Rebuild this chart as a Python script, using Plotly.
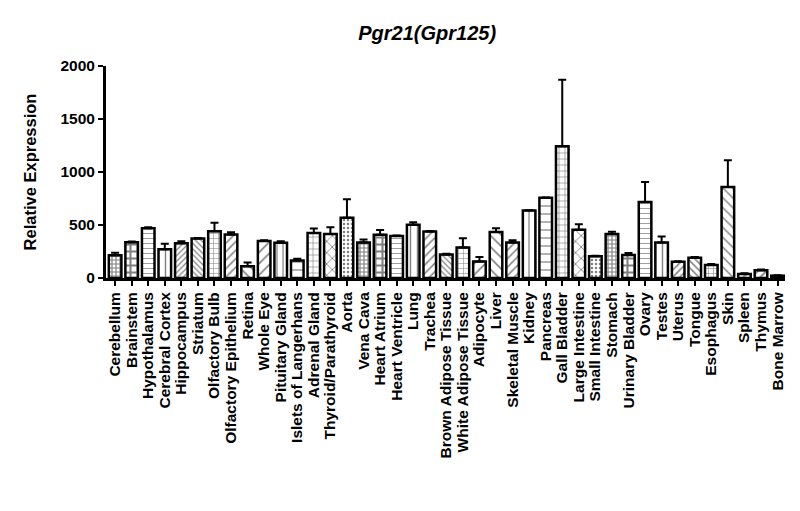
import plotly.graph_objects as go

tissues = ['Cerebellum', 'Brainstem', 'Hypothalamus', 'Cerebral Cortex', 'Hippocampus',
           'Striatum', 'Olfactory Bulb', 'Olfactory Epithelium', 'Retina', 'Whole Eye',
           'Pituitary Gland', 'Islets of Langerhans', 'Adrenal Gland', 'Thyroid/Parathyroid',
           'Aorta', 'Vena Cava', 'Heart Atrium', 'Heart Ventricle', 'Lung', 'Trachea',
           'Brown Adipose Tissue', 'White Adipose Tissue', 'Adipocyte', 'Liver',
           'Skeletal Muscle', 'Kidney', 'Pancreas', 'Gall Bladder', 'Large Intestine',
           'Small Intestine', 'Stomach', 'Urinary Bladder', 'Ovary', 'Testes', 'Uterus',
           'Tongue', 'Esophagus', 'Skin', 'Spleen', 'Thymus', 'Bone Marrow']

expression = [215, 338, 469, 272, 328, 372, 441, 410, 112, 350,
              332, 166, 425, 416, 569, 335, 407, 397, 503, 438,
              222, 288, 156, 435, 335, 637, 756, 1244, 456, 206,
              416, 216, 716, 335, 153, 191, 122, 859, 38, 72, 22]

sem = [23, 6, 9, 50, 19, 5, 81, 21, 35, 6,
       15, 16, 41, 62, 175, 28, 46, 4, 22, 6,
       6, 87, 41, 34, 21, 3, 3, 626, 50, 3,
       21, 19, 190, 56, 6, 6, 9, 253, 6, 9, 3]

y_ticks = [0, 500, 1000, 1500, 2000]

# hatch fills, cycling roughly like the original GraphPad patterns
shapes = ['+', '+', '-', '|', '/', '\\', '+', '/', '\\', '/',
          '|', '-', '+', 'x', '.', '+', '+', '-', '|', '/',
          '\\', '+', '/', '\\', '/', '|', '-', '+', 'x', '.',
          '+', '+', '-', '|', '/', '\\', '+', '\\', '/', '/', '\\']
sizes = [4, 7, 5, 7, 4, 4, 5, 6, 8, 8,
         6, 8, 6, 8, 4, 4, 7, 5, 7, 6,
         4, 5, 8, 8, 6, 6, 8, 6, 8, 4,
         4, 7, 5, 7, 5, 5, 5, 7, 5, 6, 5]
solid = [0.5, 0.5, 0.15, 0.2, 0.3, 0.3, 0.2, 0.25, 0.2, 0.2,
         0.2, 0.15, 0.2, 0.2, 0.3, 0.5, 0.5, 0.15, 0.2, 0.25,
         0.3, 0.2, 0.2, 0.2, 0.25, 0.2, 0.15, 0.2, 0.2, 0.3,
         0.5, 0.5, 0.15, 0.2, 0.3, 0.3, 0.2, 0.2, 0.3, 0.3, 0.3]

fig = go.Figure()

fig.add_trace(go.Bar(
    x=tissues, y=expression, width=0.76,
    marker=dict(color='white', line=dict(color='black', width=2.5),
                pattern=dict(shape=shapes, size=sizes, solidity=solid,
                             fgcolor='black', bgcolor='white')),
    error_y=dict(type='data', array=sem, arrayminus=[0] * len(sem), symmetric=False,
                 color='black', thickness=2, width=4),
))

font = 'Liberation Sans, Arial, sans-serif'

# page body has a default 8px margin, so margins are shifted to compensate
fig.update_layout(
    width=800, height=511,
    margin=dict(l=98, r=23, t=58, b=241),
    paper_bgcolor='white', plot_bgcolor='white',
    showlegend=False,
    title=dict(text='<b><i>Pgr21(Gpr125)</i></b>', x=0.524, xanchor='center',
               y=1 - 25 / 511, yanchor='middle',
               font=dict(family=font, size=20, color='black')),
    font=dict(family=font, color='black'),
)

fig.update_xaxes(
    range=[-0.55, 40.45], tickmode='array', tickvals=tissues, ticktext=tissues,
    showline=True, linecolor='black', linewidth=3,
    ticks='outside', ticklen=5, tickwidth=2, tickcolor='black',
    tickangle=-90, tickfont=dict(family=font, size=15.5, weight='bold', color='black'),
    showgrid=False, zeroline=False, automargin=False,
)

fig.update_yaxes(
    range=[0, 2000], tickmode='array', tickvals=y_ticks,
    showline=True, linecolor='black', linewidth=3,
    ticks='outside', ticklen=5, tickwidth=2, tickcolor='black',
    tickfont=dict(family=font, size=15.5, weight='bold', color='black'),
    title=dict(text='<b>Relative Expression</b>', standoff=20,
               font=dict(family=font, size=16.5, color='black')),
    showgrid=False, zeroline=False, automargin=False,
)

fig.write_html("out.html")
